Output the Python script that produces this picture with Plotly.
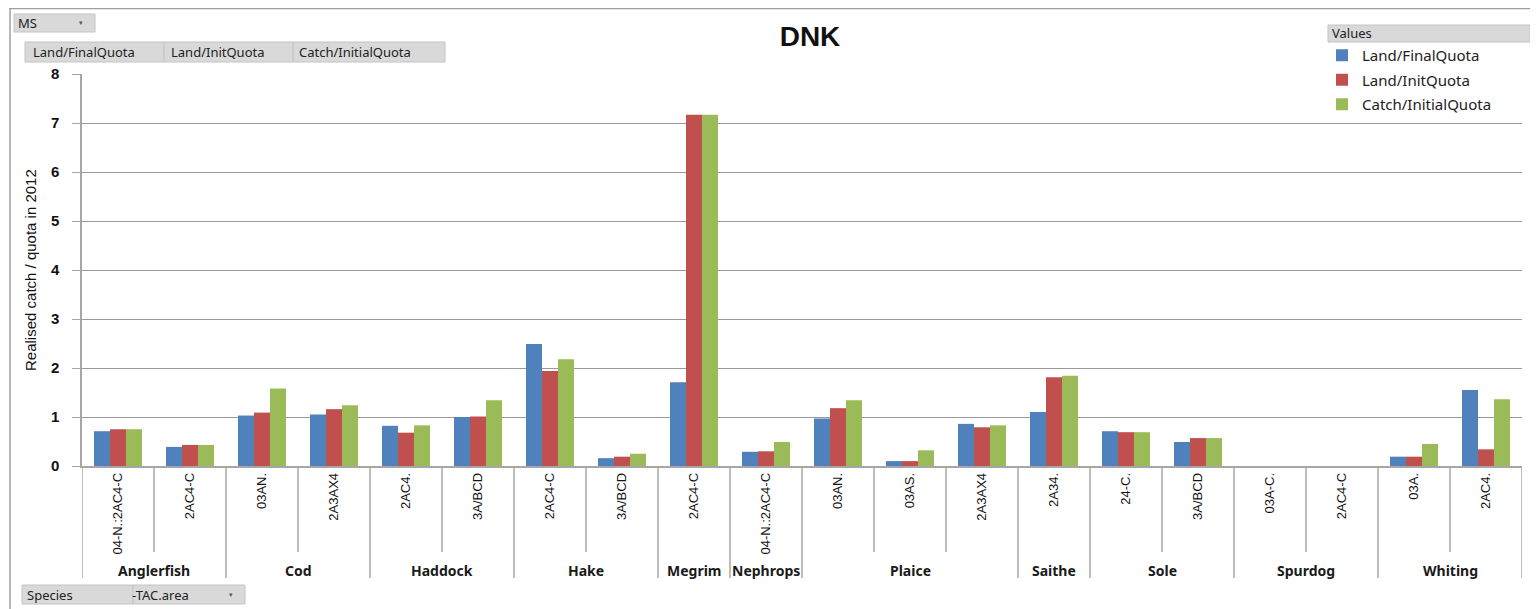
import plotly.graph_objects as go

species = ["Anglerfish", "Anglerfish", "Cod", "Cod", "Haddock", "Haddock", "Hake", "Hake",
           "Megrim", "Nephrops", "Plaice", "Plaice", "Plaice", "Saithe", "Sole", "Sole",
           "Spurdog", "Spurdog", "Whiting", "Whiting"]
areas = ["04-N.:2AC4-C", "2AC4-C", "03AN.", "2A3AX4", "2AC4.", "3A/BCD", "2AC4-C", "3A/BCD",
         "2AC4-C", "04-N.:2AC4-C", "03AN.", "03AS.", "2A3AX4", "2A34.", "24-C.", "3A/BCD",
         "03A-C.", "2AC4-C", "03A.", "2AC4."]
land_final = [0.71, 0.39, 1.03, 1.05, 0.82, 1.00, 2.49, 0.16, 1.71, 0.29, 0.97, 0.10, 0.86, 1.10,
              0.71, 0.49, 0, 0, 0.19, 1.55]
land_init = [0.75, 0.43, 1.09, 1.16, 0.68, 1.01, 1.94, 0.19, 7.17, 0.30, 1.18, 0.10, 0.79, 1.81,
             0.69, 0.57, 0, 0, 0.19, 0.34]
catch_init = [0.75, 0.43, 1.58, 1.24, 0.83, 1.34, 2.18, 0.25, 7.17, 0.49, 1.34, 0.32, 0.83, 1.84,
              0.69, 0.57, 0, 0, 0.45, 1.36]
series_names = ["Land/FinalQuota", "Land/InitQuota", "Catch/InitialQuota"]
colors = ["#4F81BD", "#C0504D", "#9BBB59"]
y_ticks = [0, 1, 2, 3, 4, 5, 6, 7, 8]

keys = [f"{s}|{a}|{i}" for i, (s, a) in enumerate(zip(species, areas))]

# page body margin offsets the figure by 8px; work in reference-pixel coordinates
OFF = 8
W, H = 1538 - OFF, 609 - OFF
RL, RR, RT, RB = 82, 1522, 74, 466  # plot area in reference pixels


def px(x):
    return (x - RL) / (RR - RL)


def py(y):
    return (RB - y) / (RB - RT)


fig = go.Figure()
for k, (name, vals, c) in enumerate(zip(series_names, [land_final, land_init, catch_init], colors)):
    fig.add_trace(go.Bar(x=keys, y=vals, name=name, legendgroup=f"g{k}",
                         marker=dict(color=c, line=dict(width=0))))

shapes = []
annotations = []
n = len(keys)
for i in range(n + 1):
    boundary = i - 0.5
    group_edge = i == 0 or i == n or species[i] != species[i - 1]
    ybot = py(578) if group_edge else py(552)
    shapes.append(dict(type="line", xref="x", yref="paper", x0=boundary, x1=boundary,
                       y0=0, y1=ybot, line=dict(color="#A6A6A6", width=1.5)))

groups = []
for i, s in enumerate(species):
    if groups and groups[-1][0] == s:
        groups[-1][2] = i
    else:
        groups.append([s, i, i])
for s, a, b in groups:
    annotations.append(dict(text=f"<b>{s}</b>", xref="x", yref="paper", x=(a + b) / 2, y=py(570),
                            showarrow=False, font=dict(family="Noto Sans", size=14, color="#1a1a1a"),
                            xanchor="center", yanchor="middle"))

annotations.append(dict(text="Realised catch / quota in 2012", xref="paper", yref="paper",
                        x=px(30), y=py(270), textangle=-90, showarrow=False,
                        font=dict(family="Liberation Sans Narrow, Liberation Sans", size=15, color="#111"),
                        xanchor="center", yanchor="middle"))

# outer frame
shapes.append(dict(type="line", xref="paper", yref="paper", x0=px(9), x1=px(1538), y0=py(8.5), y1=py(8.5),
                   line=dict(color="#A0A0A0", width=1.5)))
shapes.append(dict(type="line", xref="paper", yref="paper", x0=px(10), x1=px(10), y0=py(8), y1=py(609),
                   line=dict(color="#A0A0A0", width=1.5)))


def button(x0, y0, x1, y1, text, dropdown=False, text_x=None, size=13):
    shapes.append(dict(type="rect", xref="paper", yref="paper", x0=px(x0), x1=px(x1), y0=py(y1), y1=py(y0),
                       fillcolor="#D9D9D9", line=dict(color="#C4C4C4", width=1), layer="below"))
    tx = text_x if text_x is not None else x0 + 4
    annotations.append(dict(text=text, xref="paper", yref="paper", x=px(tx), y=py((y0 + y1) / 2),
                            showarrow=False, xanchor="left", yanchor="middle",
                            font=dict(family="Noto Sans", size=size, color="#222")))
    if dropdown:
        annotations.append(dict(text="▾", xref="paper", yref="paper", x=px(x1 - 14), y=py((y0 + y1) / 2),
                                showarrow=False, xanchor="center", yanchor="middle",
                                font=dict(family="DejaVu Sans", size=7, color="#555")))


button(14, 14, 95, 32, "MS", dropdown=True, text_x=16)
button(25, 42, 164, 62, "Land/FinalQuota", text_x=31)
button(164, 42, 293, 62, "Land/InitQuota", text_x=169)
button(293, 42, 445, 62, "Catch/InitialQuota", text_x=297)
button(22, 585, 133, 604, "Species", text_x=25)
button(133, 585, 245, 604, "-TAC.area", dropdown=True, text_x=130)
button(1328, 25, 1530, 42, "Values", text_x=1330)

fig.update_layout(
    width=W, height=H,
    margin=dict(l=RL - OFF, r=(1538 - RR), t=RT - OFF, b=(609 - RB), autoexpand=False),
    paper_bgcolor="white", plot_bgcolor="white",
    barmode="group", bargap=0.333, bargroupgap=0,
    title=dict(text="<b>DNK</b>", xref="paper", x=px(810), xanchor="center",
               yref="container", y=1 - (36 - OFF) / H, yanchor="middle",
               font=dict(family="Liberation Sans, Arial", size=28, color="#111")),
    font=dict(family="Liberation Sans, Arial", color="#222"),
    showlegend=True,
    legend=dict(x=px(1322), y=py(39), xanchor="left", yanchor="top", bgcolor="rgba(0,0,0,0)",
                font=dict(family="Noto Sans", size=15, color="#222"),
                itemwidth=30, tracegroupgap=2),
    xaxis=dict(type="category", tickmode="array", tickvals=keys, ticktext=areas, tickangle=-90,
               tickfont=dict(family="Liberation Sans Narrow, Liberation Sans", size=13, color="#111"),
               showgrid=False, showline=True, linecolor="#A6A6A6", linewidth=1.5, ticks="",
               range=[-0.5, n - 0.5], fixedrange=True),
    yaxis=dict(range=[0, 8], tickmode="array", tickvals=y_ticks, ticktext=[f"<b>{v}</b>" for v in y_ticks],
               showgrid=True, gridcolor="#9A9A9A", gridwidth=1, showline=True, linecolor="#A6A6A6",
               linewidth=1.5, ticks="outside", ticklen=8, tickcolor="#A6A6A6", ticklabelstandoff=10,
               tickfont=dict(family="Liberation Sans, Arial", size=15, color="#111"), zeroline=False),
    shapes=shapes, annotations=annotations,
)

fig.write_html("out.html")
